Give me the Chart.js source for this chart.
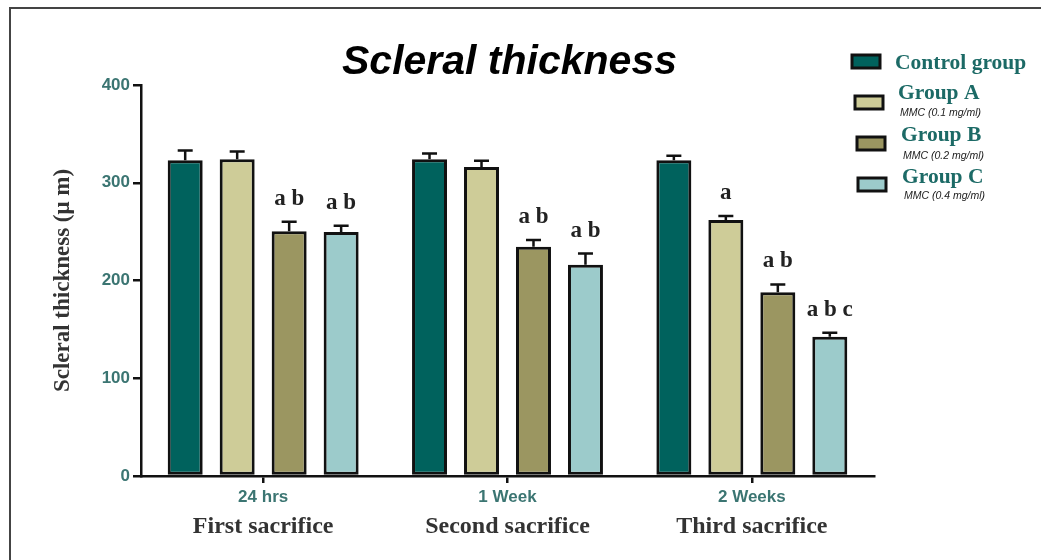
<!DOCTYPE html>
<html>
<head>
<meta charset="utf-8">
<script src="https://cdn.jsdelivr.net/npm/chart.js@4.4.1/dist/chart.umd.min.js"></script>
<style>
html,body{margin:0;padding:0;background:#fff;}
#wrap{width:1041px;height:560px;}
</style>
</head>
<body>
<div id="wrap"><canvas id="c" width="1041" height="560"></canvas></div>
<script>
// ---- DATA ----
const categories = ['24 hrs', '1 Week', '2 Weeks'];
const sacrificeLabels = ['First sacrifice', 'Second sacrifice', 'Third sacrifice'];
const seriesNames = ['Control group', 'Group A', 'Group B', 'Group C'];
const seriesNotes = ['', 'MMC (0.1 mg/ml)', 'MMC (0.2 mg/ml)', 'MMC (0.4 mg/ml)'];
const controlValues = [323, 324, 323];
const groupAValues = [324, 316, 262];
const groupBValues = [250.5, 234.5, 188];
const groupCValues = [249.5, 216, 142.5];
const controlErrors = [10, 6, 4.5];
const groupAErrors = [8, 6.5, 4];
const groupBErrors = [9.5, 7, 8];
const groupCErrors = [6.5, 11.5, 4];
const controlLetters = ['', '', ''];
const groupALetters = ['', '', 'a'];
const groupBLetters = ['a b', 'a b', 'a b'];
const groupCLetters = ['a b', 'a b', 'a b c'];
const yTicks = [0, 100, 200, 300, 400];

const colors = ['#00625d', '#cecc98', '#9b9661', '#9ccbcb'];
const allValues = [controlValues, groupAValues, groupBValues, groupCValues];
const allErrors = [controlErrors, groupAErrors, groupBErrors, groupCErrors];
const allLetters = [controlLetters, groupALetters, groupBLetters, groupCLetters];

const tealText = '#3b7572';
const legendText = '#1c6a66';

const datasets = seriesNames.map((n, i) => ({
  label: n,
  data: allValues[i],
  backgroundColor: colors[i],
  borderColor: '#111',
  borderWidth: 3,
  borderSkipped: false,
  categoryPercentage: 0.851,
  barPercentage: 0.673
}));

const decorPlugin = {
  id: 'decor',
  beforeDraw(chart) {
    const ctx = chart.ctx;
    ctx.save();
    ctx.fillStyle = '#fff';
    ctx.fillRect(0, 0, chart.width, chart.height);
    ctx.strokeStyle = '#444';
    ctx.lineWidth = 2;
    ctx.beginPath();
    ctx.moveTo(9, 8); ctx.lineTo(chart.width, 8);
    ctx.moveTo(10, 8); ctx.lineTo(10, chart.height);
    ctx.stroke();
    ctx.restore();
  },
  afterDatasetsDraw(chart) {
    const ctx = chart.ctx;
    const ys = chart.scales.y;
    const xs = chart.scales.x;
    const area = chart.chartArea;
    ctx.save();
    // error bars + letters
    allValues.forEach((vals, i) => {
      const meta = chart.getDatasetMeta(i);
      vals.forEach((v, j) => {
        const bar = meta.data[j];
        const yTop = ys.getPixelForValue(v);
        const yErr = ys.getPixelForValue(v + allErrors[i][j]);
        ctx.strokeStyle = '#111';
        ctx.lineWidth = 2.5;
        ctx.beginPath();
        ctx.moveTo(bar.x, yTop);
        ctx.lineTo(bar.x, yErr);
        ctx.moveTo(bar.x - 7.5, yErr);
        ctx.lineTo(bar.x + 7.5, yErr);
        ctx.stroke();
        const letter = allLetters[i][j];
        if (letter) {
          ctx.fillStyle = '#222';
          ctx.font = 'bold 23px "Liberation Serif", serif';
          ctx.textAlign = 'center';
          ctx.textBaseline = 'middle';
          ctx.fillText(letter, bar.x, yErr - 23);
        }
      });
    });
    // second line of category labels
    ctx.fillStyle = '#333';
    ctx.font = 'bold 24px "Liberation Serif", serif';
    ctx.textAlign = 'center';
    ctx.textBaseline = 'middle';
    sacrificeLabels.forEach((s, j) => {
      ctx.fillText(s, xs.getPixelForValue(j), 527);
    });
    // title
    ctx.fillStyle = '#000';
    ctx.font = 'italic bold 41px "Liberation Sans", Arial, sans-serif';
    ctx.fillText('Scleral thickness', (area.left + area.right) / 2 + 2, 63);
    // legend
    const rows = [
      {bx: 852, by: 55, tx: 895, ty: 63, ny: 0},
      {bx: 855, by: 96, tx: 898, ty: 93, ny: 113},
      {bx: 857, by: 137, tx: 901, ty: 135, ny: 156},
      {bx: 858, by: 178, tx: 902, ty: 177, ny: 196}
    ];
    seriesNames.forEach((n, i) => {
      const r = rows[i];
      ctx.fillStyle = colors[i];
      ctx.fillRect(r.bx, r.by, 28, 13);
      ctx.strokeStyle = '#111';
      ctx.lineWidth = 3;
      ctx.strokeRect(r.bx, r.by, 28, 13);
      ctx.fillStyle = legendText;
      ctx.font = 'bold 21.5px "Liberation Serif", serif';
      ctx.textAlign = 'left';
      ctx.textBaseline = 'middle';
      ctx.fillText(n, r.tx, r.ty);
      if (seriesNotes[i]) {
        ctx.fillStyle = '#222';
        ctx.font = 'italic 10.5px "Liberation Sans", Arial, sans-serif';
        ctx.fillText(seriesNotes[i], r.tx + 2, r.ny);
      }
    });
    ctx.restore();
  }
};

new Chart(document.getElementById('c'), {
  type: 'bar',
  data: { labels: categories, datasets },
  options: {
    responsive: false,
    animation: false,
    devicePixelRatio: 1,
    layout: { padding: { left: 0, top: 85, right: 167, bottom: 0 } },
    plugins: { legend: { display: false }, tooltip: { enabled: false } },
    scales: {
      x: {
        grid: { display: true, drawOnChartArea: false, offset: false, color: '#111', lineWidth: 2.5, tickLength: 7 },
        border: { display: true, color: '#111', width: 2.5 },
        ticks: { color: tealText, font: { family: '"Liberation Sans", Arial, sans-serif', size: 17, weight: 'bold' }, padding: 4 },
        afterFit(s) { s.height = 84; }
      },
      y: {
        min: 0, max: 400,
        afterBuildTicks(s) { s.ticks = yTicks.map(v => ({ value: v })); },
        grid: { display: true, drawOnChartArea: false, color: '#111', lineWidth: 2.5, tickLength: 8 },
        border: { display: true, color: '#111', width: 2.5 },
        ticks: { color: tealText, font: { family: '"Liberation Sans", Arial, sans-serif', size: 17, weight: 'bold' }, padding: 3 },
        title: {
          display: true,
          text: 'Scleral thickness (μ m)',
          color: '#333',
          font: { family: '"Liberation Serif", serif', size: 23, weight: 'bold' },
          padding: { top: 49, bottom: 0 }
        },
        afterFit(s) { s.width = 141; }
      }
    }
  },
  plugins: [decorPlugin]
});
</script>
</body>
</html>
